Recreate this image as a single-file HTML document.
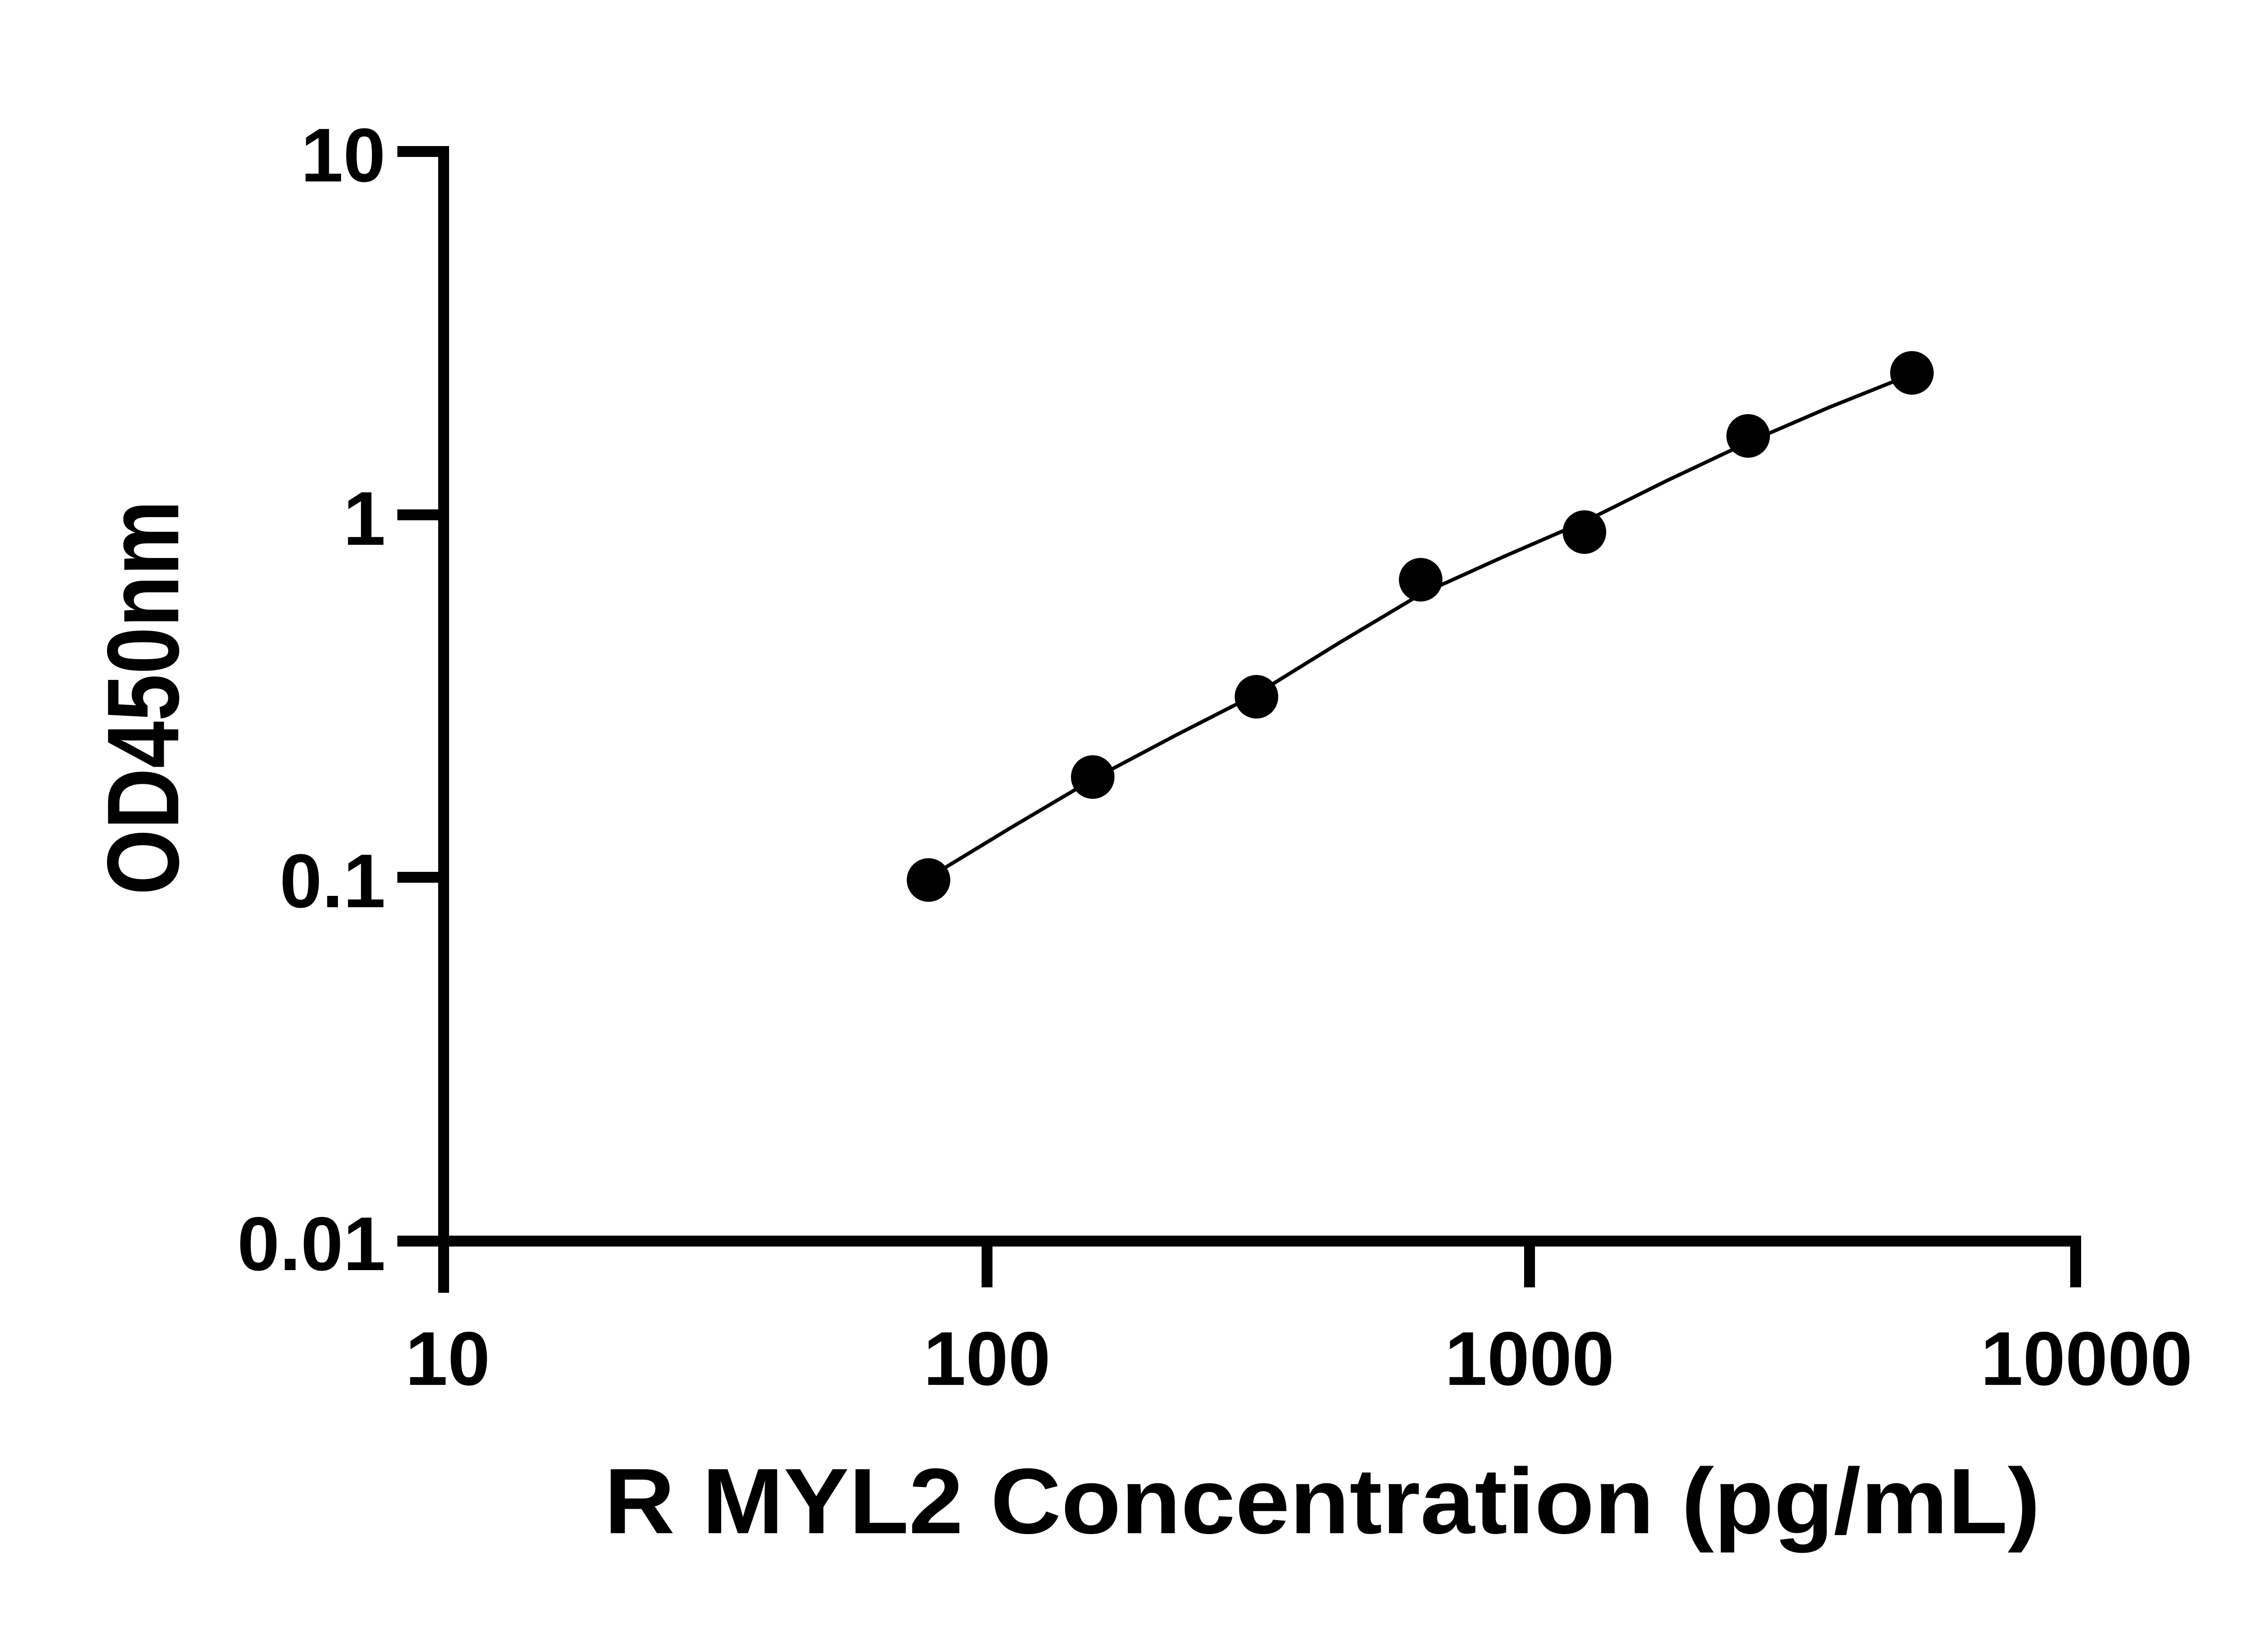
<!DOCTYPE html>
<html><head><meta charset="utf-8"><style>html,body{margin:0;padding:0;background:#fff}svg{display:block}</style></head>
<body>
<svg width="5130" height="3600" viewBox="0 0 5130 3600" xmlns="http://www.w3.org/2000/svg">
<rect width="5130" height="3600" fill="#fff"/>
<g stroke="#000" fill="none">
<line x1="978" y1="322" x2="978" y2="2850" stroke-width="24"/>
<line x1="876" y1="2736" x2="4588" y2="2736" stroke-width="24"/>
<g stroke-width="24">
<line x1="876" y1="334" x2="978" y2="334"/>
<line x1="876" y1="1135" x2="978" y2="1135"/>
<line x1="876" y1="1934" x2="978" y2="1934"/>
<line x1="2176" y1="2736" x2="2176" y2="2838"/>
<line x1="3372" y1="2736" x2="3372" y2="2838"/>
<line x1="4576" y1="2736" x2="4576" y2="2838"/>
</g>
<polyline stroke-width="8" points="2047,1935 2228,1825 2409,1718 2590,1622 2770,1530 2951,1418 3132,1310 3313,1228 3493,1150 3674,1060 3854,975 4035,897 4215,825"/>
</g>
<g fill="#000">
<circle cx="2047" cy="1940" r="48"/>
<circle cx="2409" cy="1713" r="48"/>
<circle cx="2770" cy="1536" r="48"/>
<circle cx="3132" cy="1278" r="48"/>
<circle cx="3493" cy="1173" r="48"/>
<circle cx="3854" cy="961" r="48"/>
<circle cx="4215" cy="822" r="48"/>
</g>
<g font-family="Liberation Sans, sans-serif" font-weight="bold" font-size="168" fill="#000">
<g text-anchor="end">
<text x="850" y="400">10</text>
<text x="850" y="1201">1</text>
<text x="850" y="2000">0.1</text>
<text x="850" y="2800">0.01</text>
</g>
<g text-anchor="middle">
<text x="987" y="3053">10</text>
<text x="2176" y="3053">100</text>
<text x="3372" y="3053">1000</text>
<text x="4600" y="3053">10000</text>
</g>
<text x="1332" y="3380" font-size="205" textLength="3166" lengthAdjust="spacingAndGlyphs">R MYL2 Concentration (pg/mL)</text>
<text transform="translate(393,1973) rotate(-90)" font-size="225" textLength="870" lengthAdjust="spacingAndGlyphs">OD450nm</text>
</g>
</svg>
</body></html>
